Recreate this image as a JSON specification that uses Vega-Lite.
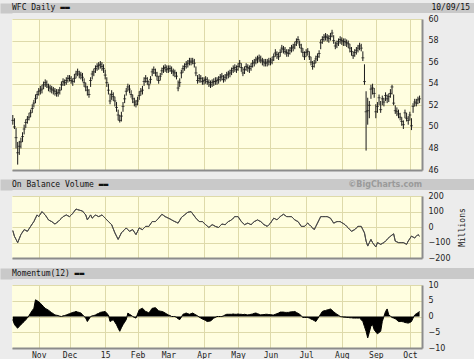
{
"$schema": "https://vega.github.io/schema/vega-lite/v6.json",
"background": "#ececec",
"padding": {"left": 0, "top": 3, "right": 0, "bottom": 0},
"spacing": 0,
"config": {"view": {"stroke": null}},
"datasets": {"wfc": [
{"d":0,"h":51.1,"l":50.2,"c":50.6,"obv":-23,"mom":-1.0},
{"d":1,"h":50.8,"l":49.8,"c":50.0,"obv":-60,"mom":-2.5},
{"d":2,"h":49.9,"l":48.0,"c":49.0,"obv":-80,"mom":-3.2},
{"d":3,"h":48.6,"l":46.5,"c":47.6,"obv":-101,"mom":-3.7},
{"d":4,"h":48.7,"l":47.4,"c":48.2,"obv":-75,"mom":-3.1},
{"d":5,"h":49.0,"l":48.0,"c":48.6,"obv":-49,"mom":-2.6},
{"d":6,"h":49.5,"l":48.6,"c":49.1,"obv":-33,"mom":-2.1},
{"d":7,"h":50.2,"l":49.3,"c":49.8,"obv":-17,"mom":-1.6},
{"d":8,"h":50.7,"l":49.9,"c":50.4,"obv":-22,"mom":-1.0},
{"d":9,"h":51.0,"l":50.3,"c":50.7,"obv":-28,"mom":-0.5},
{"d":10,"h":51.3,"l":50.6,"c":50.9,"obv":-12,"mom":0.3},
{"d":11,"h":51.6,"l":50.9,"c":51.3,"obv":4,"mom":1.1},
{"d":12,"h":52.1,"l":51.3,"c":51.7,"obv":20,"mom":1.9},
{"d":13,"h":52.5,"l":51.8,"c":52.2,"obv":35,"mom":2.6},
{"d":14,"h":53.0,"l":52.2,"c":52.6,"obv":57,"mom":5.3},
{"d":15,"h":53.3,"l":52.6,"c":53.0,"obv":78,"mom":5.0},
{"d":16,"h":53.6,"l":52.9,"c":53.3,"obv":67,"mom":4.7},
{"d":17,"h":53.8,"l":53.0,"c":53.4,"obv":83,"mom":4.2},
{"d":18,"h":53.9,"l":53.1,"c":53.5,"obv":99,"mom":3.7},
{"d":19,"h":54.2,"l":53.5,"c":53.9,"obv":88,"mom":3.1},
{"d":20,"h":54.4,"l":53.7,"c":54.1,"obv":78,"mom":2.6},
{"d":21,"h":54.3,"l":53.6,"c":53.9,"obv":62,"mom":2.3},
{"d":22,"h":54.0,"l":53.3,"c":53.7,"obv":46,"mom":2.0},
{"d":23,"h":53.9,"l":53.2,"c":53.6,"obv":40,"mom":1.6},
{"d":24,"h":53.8,"l":53.1,"c":53.5,"obv":35,"mom":1.2},
{"d":25,"h":53.7,"l":53.0,"c":53.4,"obv":27,"mom":0.9},
{"d":26,"h":53.6,"l":52.9,"c":53.3,"obv":19,"mom":0.5},
{"d":27,"h":53.5,"l":52.8,"c":53.1,"obv":27,"mom":0.4},
{"d":28,"h":53.5,"l":52.8,"c":53.2,"obv":35,"mom":0.3},
{"d":29,"h":53.7,"l":53.0,"c":53.4,"obv":46,"mom":0.1},
{"d":30,"h":54.2,"l":53.4,"c":53.9,"obv":56,"mom":0.0},
{"d":31,"h":54.5,"l":53.8,"c":54.2,"obv":67,"mom":0.2},
{"d":32,"h":54.4,"l":53.8,"c":54.1,"obv":72,"mom":0.3},
{"d":33,"h":54.6,"l":53.9,"c":54.3,"obv":78,"mom":0.5},
{"d":34,"h":54.8,"l":54.1,"c":54.5,"obv":72,"mom":0.7},
{"d":35,"h":54.8,"l":54.2,"c":54.5,"obv":67,"mom":0.9},
{"d":36,"h":54.7,"l":54.0,"c":54.3,"obv":77,"mom":1.1},
{"d":37,"h":54.5,"l":53.8,"c":54.2,"obv":88,"mom":1.3},
{"d":38,"h":54.9,"l":54.1,"c":54.5,"obv":102,"mom":1.4},
{"d":39,"h":55.2,"l":54.5,"c":54.9,"obv":116,"mom":1.6},
{"d":40,"h":55.4,"l":54.7,"c":55.1,"obv":112,"mom":1.4},
{"d":41,"h":55.2,"l":54.5,"c":54.9,"obv":109,"mom":1.3},
{"d":42,"h":55.1,"l":54.4,"c":54.8,"obv":106,"mom":1.1},
{"d":43,"h":55.0,"l":54.2,"c":54.6,"obv":103,"mom":0.6},
{"d":44,"h":54.5,"l":53.7,"c":54.1,"obv":90,"mom":0.0},
{"d":45,"h":54.1,"l":53.3,"c":53.7,"obv":78,"mom":-0.5},
{"d":46,"h":53.8,"l":52.9,"c":53.4,"obv":46,"mom":-1.6},
{"d":47,"h":53.5,"l":52.7,"c":53.0,"obv":62,"mom":-0.8},
{"d":48,"h":54.6,"l":53.7,"c":54.3,"obv":78,"mom":0.0},
{"d":49,"h":55.2,"l":54.4,"c":54.9,"obv":57,"mom":0.2},
{"d":50,"h":55.4,"l":54.7,"c":55.1,"obv":67,"mom":0.3},
{"d":51,"h":55.7,"l":55.0,"c":55.4,"obv":78,"mom":0.5},
{"d":52,"h":55.9,"l":55.2,"c":55.6,"obv":72,"mom":0.8},
{"d":53,"h":56.0,"l":55.3,"c":55.7,"obv":67,"mom":1.0},
{"d":54,"h":56.1,"l":55.4,"c":55.8,"obv":72,"mom":1.3},
{"d":55,"h":56.0,"l":55.2,"c":55.6,"obv":78,"mom":1.4},
{"d":56,"h":55.8,"l":55.0,"c":55.4,"obv":68,"mom":1.5},
{"d":57,"h":55.3,"l":54.4,"c":54.8,"obv":57,"mom":1.6},
{"d":58,"h":54.6,"l":53.7,"c":54.1,"obv":46,"mom":1.0},
{"d":59,"h":54.0,"l":53.0,"c":53.4,"obv":35,"mom":0.5},
{"d":60,"h":53.1,"l":52.1,"c":52.4,"obv":25,"mom":-1.6},
{"d":61,"h":53.4,"l":52.5,"c":53.0,"obv":15,"mom":-1.3},
{"d":62,"h":53.2,"l":52.4,"c":52.8,"obv":-12,"mom":-1.0},
{"d":63,"h":52.8,"l":51.9,"c":52.4,"obv":-38,"mom":-1.8},
{"d":64,"h":52.3,"l":51.4,"c":51.8,"obv":-59,"mom":-2.6},
{"d":65,"h":51.6,"l":50.6,"c":51.1,"obv":-80,"mom":-3.7},
{"d":66,"h":51.1,"l":50.4,"c":50.6,"obv":-59,"mom":-4.7},
{"d":67,"h":51.4,"l":50.5,"c":51.0,"obv":-38,"mom":-3.6},
{"d":68,"h":52.3,"l":51.4,"c":51.9,"obv":-27,"mom":-2.6},
{"d":69,"h":53.0,"l":52.2,"c":52.6,"obv":-17,"mom":-1.8},
{"d":70,"h":53.6,"l":52.9,"c":53.3,"obv":-6,"mom":-1.0},
{"d":71,"h":54.0,"l":53.3,"c":53.7,"obv":-17,"mom":1.1},
{"d":72,"h":53.9,"l":53.1,"c":53.5,"obv":-28,"mom":0.7},
{"d":73,"h":53.4,"l":52.7,"c":53.0,"obv":-22,"mom":0.4},
{"d":74,"h":53.0,"l":52.2,"c":52.6,"obv":-17,"mom":0.0},
{"d":75,"h":52.7,"l":51.9,"c":52.3,"obv":-33,"mom":-0.3},
{"d":76,"h":52.5,"l":51.8,"c":52.1,"obv":-49,"mom":-0.5},
{"d":77,"h":52.8,"l":52.0,"c":52.4,"obv":-28,"mom":0.8},
{"d":78,"h":53.3,"l":52.5,"c":52.9,"obv":-6,"mom":2.1},
{"d":79,"h":53.6,"l":52.9,"c":53.3,"obv":-12,"mom":2.4},
{"d":80,"h":53.8,"l":53.0,"c":53.4,"obv":-17,"mom":2.6},
{"d":81,"h":54.6,"l":53.8,"c":54.2,"obv":-6,"mom":2.1},
{"d":82,"h":54.8,"l":54.1,"c":54.5,"obv":4,"mom":1.6},
{"d":83,"h":54.6,"l":53.9,"c":54.2,"obv":4,"mom":1.4},
{"d":84,"h":54.3,"l":53.5,"c":53.9,"obv":4,"mom":1.1},
{"d":85,"h":54.7,"l":54.0,"c":54.4,"obv":20,"mom":1.9},
{"d":86,"h":55.4,"l":54.7,"c":55.1,"obv":35,"mom":2.6},
{"d":87,"h":55.6,"l":54.9,"c":55.3,"obv":35,"mom":2.7},
{"d":88,"h":55.4,"l":54.7,"c":55.0,"obv":35,"mom":2.8},
{"d":89,"h":55.1,"l":54.3,"c":54.7,"obv":46,"mom":2.3},
{"d":90,"h":54.7,"l":54.0,"c":54.3,"obv":57,"mom":1.8},
{"d":91,"h":55.0,"l":54.3,"c":54.7,"obv":70,"mom":1.7},
{"d":92,"h":55.5,"l":54.8,"c":55.2,"obv":82,"mom":1.6},
{"d":93,"h":55.7,"l":55.0,"c":55.4,"obv":75,"mom":1.4},
{"d":94,"h":55.8,"l":55.1,"c":55.5,"obv":67,"mom":1.1},
{"d":95,"h":55.7,"l":55.0,"c":55.3,"obv":62,"mom":0.8},
{"d":96,"h":55.7,"l":55.0,"c":55.4,"obv":57,"mom":0.5},
{"d":97,"h":55.7,"l":55.1,"c":55.4,"obv":52,"mom":0.3},
{"d":98,"h":55.6,"l":54.9,"c":55.2,"obv":46,"mom":0.0},
{"d":99,"h":55.4,"l":54.7,"c":55.1,"obv":40,"mom":0.0},
{"d":100,"h":55.3,"l":54.6,"c":55.0,"obv":35,"mom":0.0},
{"d":101,"h":55.1,"l":54.4,"c":54.7,"obv":30,"mom":-0.3},
{"d":102,"h":54.3,"l":53.3,"c":53.6,"obv":25,"mom":-0.7},
{"d":103,"h":54.5,"l":53.7,"c":54.1,"obv":43,"mom":-1.0},
{"d":104,"h":55.3,"l":54.5,"c":55.0,"obv":61,"mom":-0.2},
{"d":105,"h":55.7,"l":55.0,"c":55.4,"obv":70,"mom":0.7},
{"d":106,"h":55.9,"l":55.2,"c":55.6,"obv":78,"mom":0.9},
{"d":107,"h":56.1,"l":55.4,"c":55.8,"obv":87,"mom":1.1},
{"d":108,"h":56.2,"l":55.5,"c":55.9,"obv":95,"mom":0.9},
{"d":109,"h":56.4,"l":55.7,"c":56.1,"obv":97,"mom":0.7},
{"d":110,"h":56.4,"l":55.7,"c":56.0,"obv":99,"mom":0.9},
{"d":111,"h":56.4,"l":55.8,"c":56.1,"obv":85,"mom":1.1},
{"d":112,"h":56.3,"l":55.5,"c":55.9,"obv":71,"mom":0.8},
{"d":113,"h":55.6,"l":54.7,"c":55.0,"obv":57,"mom":0.5},
{"d":114,"h":54.8,"l":54.0,"c":54.3,"obv":46,"mom":0.2},
{"d":115,"h":54.9,"l":54.1,"c":54.5,"obv":35,"mom":-0.2},
{"d":116,"h":54.8,"l":54.1,"c":54.5,"obv":35,"mom":-0.5},
{"d":117,"h":54.6,"l":53.9,"c":54.2,"obv":35,"mom":-0.8},
{"d":118,"h":54.6,"l":53.9,"c":54.3,"obv":25,"mom":-1.0},
{"d":119,"h":54.7,"l":54.0,"c":54.4,"obv":15,"mom":-1.3},
{"d":120,"h":54.6,"l":53.9,"c":54.2,"obv":6,"mom":-1.6},
{"d":121,"h":54.4,"l":53.7,"c":54.1,"obv":-3,"mom":-1.5},
{"d":122,"h":54.3,"l":53.6,"c":53.9,"obv":6,"mom":-1.4},
{"d":123,"h":54.4,"l":53.7,"c":54.1,"obv":15,"mom":-1.0},
{"d":124,"h":54.5,"l":53.8,"c":54.2,"obv":10,"mom":-0.5},
{"d":125,"h":54.6,"l":53.9,"c":54.2,"obv":4,"mom":-0.3},
{"d":126,"h":54.6,"l":53.9,"c":54.3,"obv":0,"mom":0.0},
{"d":127,"h":54.7,"l":54.0,"c":54.4,"obv":-3,"mom":0.0},
{"d":128,"h":54.9,"l":54.2,"c":54.6,"obv":8,"mom":0.0},
{"d":129,"h":55.0,"l":54.3,"c":54.7,"obv":19,"mom":0.0},
{"d":130,"h":54.8,"l":54.1,"c":54.4,"obv":17,"mom":0.2},
{"d":131,"h":54.9,"l":54.2,"c":54.6,"obv":15,"mom":0.5},
{"d":132,"h":55.1,"l":54.4,"c":54.8,"obv":25,"mom":0.7},
{"d":133,"h":55.2,"l":54.5,"c":54.9,"obv":35,"mom":0.7},
{"d":134,"h":55.3,"l":54.6,"c":55.0,"obv":40,"mom":0.7},
{"d":135,"h":55.5,"l":54.8,"c":55.2,"obv":46,"mom":0.7},
{"d":136,"h":55.7,"l":55.0,"c":55.4,"obv":57,"mom":0.8},
{"d":137,"h":55.8,"l":55.1,"c":55.5,"obv":67,"mom":0.7},
{"d":138,"h":55.7,"l":55.0,"c":55.3,"obv":67,"mom":0.7},
{"d":139,"h":55.9,"l":55.2,"c":55.6,"obv":67,"mom":0.8},
{"d":140,"h":56.2,"l":55.5,"c":55.9,"obv":51,"mom":0.7},
{"d":141,"h":55.9,"l":55.1,"c":55.5,"obv":35,"mom":0.7},
{"d":142,"h":55.5,"l":54.7,"c":55.0,"obv":25,"mom":0.6},
{"d":143,"h":55.6,"l":54.9,"c":55.3,"obv":15,"mom":0.7},
{"d":144,"h":55.9,"l":55.2,"c":55.6,"obv":20,"mom":0.6},
{"d":145,"h":55.8,"l":55.1,"c":55.5,"obv":25,"mom":0.5},
{"d":146,"h":55.7,"l":55.0,"c":55.4,"obv":20,"mom":0.6},
{"d":147,"h":55.9,"l":55.2,"c":55.6,"obv":15,"mom":0.7},
{"d":148,"h":56.2,"l":55.5,"c":55.9,"obv":25,"mom":0.8},
{"d":149,"h":56.3,"l":55.6,"c":56.0,"obv":35,"mom":1.0},
{"d":150,"h":56.5,"l":55.8,"c":56.2,"obv":40,"mom":1.1},
{"d":151,"h":56.6,"l":55.9,"c":56.3,"obv":46,"mom":0.9},
{"d":152,"h":56.7,"l":56.0,"c":56.4,"obv":40,"mom":0.7},
{"d":153,"h":56.6,"l":55.9,"c":56.2,"obv":35,"mom":0.5},
{"d":154,"h":56.4,"l":55.7,"c":56.1,"obv":25,"mom":0.6},
{"d":155,"h":56.3,"l":55.6,"c":56.0,"obv":15,"mom":0.6},
{"d":156,"h":56.3,"l":55.6,"c":55.9,"obv":10,"mom":0.7},
{"d":157,"h":56.3,"l":55.6,"c":56.0,"obv":4,"mom":0.7},
{"d":158,"h":56.4,"l":55.7,"c":56.1,"obv":15,"mom":0.6},
{"d":159,"h":56.4,"l":55.7,"c":56.0,"obv":25,"mom":0.6},
{"d":160,"h":56.5,"l":55.8,"c":56.2,"obv":41,"mom":0.5},
{"d":161,"h":56.8,"l":56.1,"c":56.5,"obv":57,"mom":0.5},
{"d":162,"h":57.2,"l":56.5,"c":56.85,"obv":52,"mom":0.7},
{"d":163,"h":57.0,"l":56.3,"c":56.7,"obv":46,"mom":0.9},
{"d":164,"h":56.9,"l":56.2,"c":56.5,"obv":57,"mom":1.1},
{"d":165,"h":57.2,"l":56.5,"c":56.9,"obv":67,"mom":1.4},
{"d":166,"h":57.6,"l":56.9,"c":57.3,"obv":75,"mom":1.4},
{"d":167,"h":57.5,"l":56.8,"c":57.2,"obv":82,"mom":1.4},
{"d":168,"h":57.4,"l":56.7,"c":57.0,"obv":75,"mom":1.3},
{"d":169,"h":57.2,"l":56.5,"c":56.9,"obv":67,"mom":1.3},
{"d":170,"h":57.2,"l":56.5,"c":56.8,"obv":67,"mom":1.3},
{"d":171,"h":57.4,"l":56.7,"c":57.1,"obv":67,"mom":1.4},
{"d":172,"h":57.6,"l":56.9,"c":57.3,"obv":67,"mom":1.5},
{"d":173,"h":57.7,"l":57.0,"c":57.4,"obv":56,"mom":1.5},
{"d":174,"h":57.9,"l":57.2,"c":57.6,"obv":46,"mom":1.6},
{"d":175,"h":58.2,"l":57.5,"c":57.9,"obv":40,"mom":1.3},
{"d":176,"h":58.4,"l":57.7,"c":58.1,"obv":35,"mom":1.0},
{"d":177,"h":58.0,"l":57.3,"c":57.6,"obv":20,"mom":0.7},
{"d":178,"h":57.7,"l":56.9,"c":57.3,"obv":4,"mom":0.2},
{"d":179,"h":57.3,"l":56.5,"c":56.9,"obv":4,"mom":-0.3},
{"d":180,"h":57.0,"l":56.2,"c":56.5,"obv":4,"mom":-0.3},
{"d":181,"h":57.2,"l":56.5,"c":56.9,"obv":15,"mom":-0.3},
{"d":182,"h":57.3,"l":56.6,"c":57.0,"obv":25,"mom":-0.3},
{"d":183,"h":57.0,"l":56.2,"c":56.5,"obv":15,"mom":-0.5},
{"d":184,"h":56.5,"l":55.7,"c":56.0,"obv":4,"mom":-0.8},
{"d":185,"h":56.1,"l":55.3,"c":55.6,"obv":-6,"mom":-1.0},
{"d":186,"h":56.2,"l":55.5,"c":55.9,"obv":-17,"mom":-1.3},
{"d":187,"h":56.6,"l":55.9,"c":56.3,"obv":4,"mom":-1.6},
{"d":188,"h":56.8,"l":56.1,"c":56.5,"obv":25,"mom":-0.8},
{"d":189,"h":57.1,"l":56.4,"c":56.8,"obv":46,"mom":0.0},
{"d":190,"h":58.1,"l":57.2,"c":57.8,"obv":67,"mom":0.8},
{"d":191,"h":58.4,"l":57.7,"c":58.1,"obv":67,"mom":1.6},
{"d":192,"h":58.6,"l":57.9,"c":58.3,"obv":67,"mom":1.8},
{"d":193,"h":58.7,"l":58.0,"c":58.4,"obv":67,"mom":1.9},
{"d":194,"h":58.6,"l":57.9,"c":58.3,"obv":67,"mom":2.1},
{"d":195,"h":58.5,"l":57.8,"c":58.2,"obv":62,"mom":2.2},
{"d":196,"h":58.7,"l":58.0,"c":58.4,"obv":57,"mom":2.4},
{"d":197,"h":59.0,"l":58.3,"c":58.7,"obv":41,"mom":2.0},
{"d":198,"h":58.5,"l":57.7,"c":58.0,"obv":25,"mom":1.5},
{"d":199,"h":57.9,"l":57.2,"c":57.5,"obv":30,"mom":1.1},
{"d":200,"h":58.0,"l":57.3,"c":57.7,"obv":35,"mom":0.7},
{"d":201,"h":58.2,"l":57.5,"c":57.9,"obv":35,"mom":0.4},
{"d":202,"h":58.4,"l":57.7,"c":58.1,"obv":35,"mom":0.0},
{"d":203,"h":58.3,"l":57.6,"c":58.0,"obv":28,"mom":-0.1},
{"d":204,"h":58.2,"l":57.5,"c":57.9,"obv":22,"mom":-0.2},
{"d":205,"h":58.2,"l":57.5,"c":57.9,"obv":15,"mom":-0.2},
{"d":206,"h":58.1,"l":57.4,"c":57.8,"obv":4,"mom":-0.3},
{"d":207,"h":58.0,"l":57.3,"c":57.7,"obv":-6,"mom":-0.3},
{"d":208,"h":57.7,"l":56.9,"c":57.3,"obv":-17,"mom":-0.4},
{"d":209,"h":57.4,"l":56.6,"c":57.0,"obv":-28,"mom":-0.4},
{"d":210,"h":57.0,"l":56.3,"c":56.6,"obv":-22,"mom":-0.5},
{"d":211,"h":57.2,"l":56.5,"c":56.9,"obv":-17,"mom":-0.5},
{"d":212,"h":57.4,"l":56.7,"c":57.1,"obv":-6,"mom":-0.5},
{"d":213,"h":57.6,"l":56.9,"c":57.3,"obv":4,"mom":-0.5},
{"d":214,"h":57.8,"l":57.1,"c":57.5,"obv":4,"mom":-0.5},
{"d":215,"h":57.7,"l":57.0,"c":57.3,"obv":4,"mom":-1.0},
{"d":216,"h":57.0,"l":56.1,"c":56.4,"obv":-17,"mom":-1.6},
{"d":217,"h":55.8,"l":53.9,"c":54.2,"obv":-38,"mom":-3.2},
{"d":218,"h":53.3,"l":47.8,"c":51.4,"obv":-91,"mom":-4.7},
{"d":219,"h":52.7,"l":50.2,"c":51.5,"obv":-123,"mom":-6.8},
{"d":220,"h":52.4,"l":50.8,"c":52.0,"obv":-101,"mom":-5.0},
{"d":221,"h":53.9,"l":52.6,"c":53.5,"obv":-80,"mom":-3.0},
{"d":222,"h":54.0,"l":53.0,"c":53.6,"obv":-101,"mom":-2.6},
{"d":223,"h":53.6,"l":52.7,"c":53.1,"obv":-115,"mom":-4.2},
{"d":224,"h":52.1,"l":50.8,"c":51.4,"obv":-129,"mom":-4.9},
{"d":225,"h":52.3,"l":51.3,"c":51.9,"obv":-101,"mom":-5.5},
{"d":226,"h":53.0,"l":52.0,"c":52.7,"obv":-106,"mom":-5.1},
{"d":227,"h":52.4,"l":51.3,"c":51.6,"obv":-112,"mom":-4.7},
{"d":228,"h":52.9,"l":52.0,"c":52.6,"obv":-106,"mom":-1.6},
{"d":229,"h":52.7,"l":51.9,"c":52.3,"obv":-101,"mom":0.0},
{"d":230,"h":53.2,"l":52.4,"c":52.9,"obv":-90,"mom":1.6},
{"d":231,"h":53.0,"l":52.2,"c":52.6,"obv":-80,"mom":2.4},
{"d":232,"h":53.1,"l":52.3,"c":52.8,"obv":-70,"mom":0.5},
{"d":233,"h":53.5,"l":52.7,"c":53.1,"obv":-59,"mom":0.1},
{"d":234,"h":53.9,"l":53.0,"c":53.7,"obv":-52,"mom":-0.3},
{"d":235,"h":53.0,"l":52.0,"c":52.2,"obv":-44,"mom":-0.5},
{"d":236,"h":52.0,"l":51.2,"c":51.5,"obv":-91,"mom":-0.7},
{"d":237,"h":51.8,"l":51.0,"c":51.4,"obv":-96,"mom":-1.1},
{"d":238,"h":51.6,"l":50.8,"c":51.2,"obv":-101,"mom":-1.6},
{"d":239,"h":51.3,"l":50.6,"c":50.9,"obv":-101,"mom":-1.6},
{"d":240,"h":50.9,"l":50.1,"c":50.5,"obv":-101,"mom":-1.6},
{"d":241,"h":50.6,"l":49.8,"c":50.2,"obv":-101,"mom":-1.7},
{"d":242,"h":51.6,"l":50.8,"c":51.3,"obv":-106,"mom":-1.9},
{"d":243,"h":51.3,"l":50.5,"c":50.8,"obv":-112,"mom":-2.0},
{"d":244,"h":51.0,"l":50.2,"c":50.6,"obv":-91,"mom":-2.1},
{"d":245,"h":51.4,"l":50.6,"c":51.1,"obv":-75,"mom":-1.9},
{"d":246,"h":50.8,"l":49.7,"c":50.1,"obv":-59,"mom":-1.6},
{"d":247,"h":52.2,"l":51.3,"c":51.9,"obv":-65,"mom":-0.5},
{"d":248,"h":52.6,"l":51.9,"c":52.3,"obv":-70,"mom":0.5},
{"d":249,"h":52.6,"l":51.9,"c":52.2,"obv":-60,"mom":0.9},
{"d":250,"h":52.8,"l":52.1,"c":52.5,"obv":-49,"mom":1.2},
{"d":251,"h":52.9,"l":52.2,"c":52.6,"obv":-59,"mom":1.6}
]},
"vconcat": [
{
 "width": 462, "height": 10,
 "view": {"fill": "#c9c9c9", "stroke": null},
 "data": {"values": [{"side": "left", "label": "WFC Daily ▬▬"}, {"side": "right", "label": "10/09/15"}]},
 "encoding": {
  "x": {"field": "side", "type": "nominal", "scale": {"domain": ["left", "right"], "range": [0, 458], "padding": 0}, "axis": {"labels": false, "ticks": false, "domain": false, "grid": false, "title": null, "minExtent": 2, "maxExtent": 2}},
  "y": {"datum": 0, "type": "quantitative", "scale": {"domain": [-1, 1], "nice": false, "zero": false}, "axis": {"orient": "left", "labels": false, "ticks": false, "grid": false, "title": null, "domain": true, "domainColor": "#c9c9c9", "domainWidth": 12, "offset": 6, "minExtent": 0, "maxExtent": 12}},
  "text": {"field": "label"}
 },
 "layer": [
  {"transform": [{"filter": "datum.side == 'left'"}], "mark": {"type": "text", "align": "left", "font": "DejaVu Sans Mono", "fontSize": 8, "color": "#111"}},
  {"transform": [{"filter": "datum.side == 'right'"}], "mark": {"type": "text", "align": "right", "font": "DejaVu Sans Mono", "fontSize": 8, "color": "#111"}}
 ]
},
{
 "width": 410, "height": 151,
 "view": {"fill": "#fffee0", "stroke": null},
 "data": {"name": "wfc"},
 "layer": [
  {"mark": {"type": "rule", "color": "#1a1a1a", "strokeWidth": 1},
   "encoding": {
    "x": {"field": "d", "type": "quantitative", "scale": {"domain": [-0.5, 252.5], "nice": false, "zero": false}, "axis": {"values": [16,35,57,77,96,118,139,159,181,203,224,245], "labels": false, "ticks": false, "grid": true, "gridColor": "#dedaaa", "domain": true, "domainColor": "#8c8c8c", "domainWidth": 2, "title": null, "minExtent": 9, "maxExtent": 9}},
    "y": {"field": "l", "type": "quantitative", "scale": {"domain": [46, 60], "nice": false, "zero": false}, "axis": {"orient": "left", "values": [46,48,50,52,54,56,58,60], "labels": false, "ticks": false, "domain": false, "grid": true, "gridColor": "#dedaaa", "title": null, "minExtent": 12, "maxExtent": 12}},
    "y2": {"field": "h"}
   }},
  {"mark": {"type": "tick", "orient": "horizontal", "color": "#1a1a1a", "size": 3, "thickness": 1},
   "encoding": {
    "x": {"field": "d", "type": "quantitative", "scale": {"domain": [-0.5, 252.5], "nice": false, "zero": false}, "axis": {"values": [16,35,57,77,96,118,139,159,181,203,224,245], "labels": false, "ticks": false, "grid": true, "gridColor": "#dedaaa", "domain": true, "domainColor": "#8c8c8c", "domainWidth": 2, "title": null, "minExtent": 9, "maxExtent": 9}},
    "y": {"field": "c", "type": "quantitative", "scale": {"domain": [46, 60], "nice": false, "zero": false}, "axis": {"orient": "right", "values": [46,48,50,52,54,56,58,60], "grid": false, "ticks": false, "labelPadding": 6, "labelFont": "DejaVu Sans", "labelFontSize": 8, "labelColor": "#222", "domain": true, "domainColor": "#8c8c8c", "domainWidth": 2, "title": null}}
   }}
 ],
 "resolve": {"axis": {"y": "independent"}}
},
{
 "width": 462, "height": 11,
 "view": {"fill": "#c9c9c9", "stroke": null},
 "data": {"values": [{"side": "left", "label": "On Balance Volume ▬▬"}, {"side": "right", "label": "©BigCharts.com"}]},
 "encoding": {
  "x": {"field": "side", "type": "nominal", "scale": {"domain": ["left", "right"], "range": [0, 410], "padding": 0}, "axis": {"labels": false, "ticks": false, "domain": false, "grid": false, "title": null, "minExtent": 2, "maxExtent": 2}},
  "y": {"datum": 0, "type": "quantitative", "scale": {"domain": [-1, 1], "nice": false, "zero": false}, "axis": {"orient": "left", "labels": false, "ticks": false, "grid": false, "title": null, "domain": true, "domainColor": "#c9c9c9", "domainWidth": 12, "offset": 6, "minExtent": 0, "maxExtent": 12}},
  "text": {"field": "label"}
 },
 "layer": [
  {"transform": [{"filter": "datum.side == 'left'"}], "mark": {"type": "text", "align": "left", "font": "DejaVu Sans Mono", "fontSize": 8, "color": "#111"}},
  {"transform": [{"filter": "datum.side == 'right'"}], "mark": {"type": "text", "align": "right", "font": "DejaVu Sans", "fontWeight": "bold", "fontSize": 8, "color": "#9a9a9a"}}
 ]
},
{
 "width": 410, "height": 62,
 "view": {"fill": "#fffee0", "stroke": null},
 "data": {"name": "wfc"},
 "layer": [
  {"mark": {"type": "line", "color": "#4a4a4a", "strokeWidth": 1},
   "encoding": {
    "x": {"field": "d", "type": "quantitative", "scale": {"domain": [-0.5, 252.5], "nice": false, "zero": false}, "axis": {"values": [16,35,57,77,96,118,139,159,181,203,224,245], "labels": false, "ticks": false, "grid": true, "gridColor": "#dedaaa", "domain": true, "domainColor": "#8c8c8c", "domainWidth": 2, "title": null, "minExtent": 10, "maxExtent": 10}},
    "y": {"field": "obv", "type": "quantitative", "scale": {"domain": [-200, 200], "nice": false, "zero": false}, "axis": {"orient": "left", "values": [-200,-100,0,100,200], "labels": false, "ticks": false, "domain": false, "grid": true, "gridColor": "#dedaaa", "title": null, "minExtent": 12, "maxExtent": 12}}
   }},
  {"mark": {"type": "line", "color": "#4a4a4a", "strokeWidth": 1},
   "encoding": {
    "x": {"field": "d", "type": "quantitative", "scale": {"domain": [-0.5, 252.5], "nice": false, "zero": false}, "axis": {"values": [16,35,57,77,96,118,139,159,181,203,224,245], "labels": false, "ticks": false, "grid": true, "gridColor": "#dedaaa", "domain": true, "domainColor": "#8c8c8c", "domainWidth": 2, "title": null, "minExtent": 10, "maxExtent": 10}},
    "y": {"field": "obv", "type": "quantitative", "scale": {"domain": [-200, 200], "nice": false, "zero": false}, "axis": {"orient": "right", "values": [-200,-100,0,100,200], "grid": false, "ticks": false, "labelPadding": 6, "labelFont": "DejaVu Sans", "labelFontSize": 8, "labelColor": "#222", "domain": true, "domainColor": "#8c8c8c", "domainWidth": 2, "title": "Millions", "titleFont": "DejaVu Sans Mono", "titleFontSize": 8, "titleFontWeight": "normal", "titleColor": "#222", "titleAngle": 270, "titlePadding": 17}}
   }}
 ],
 "resolve": {"axis": {"y": "independent"}}
},
{
 "width": 462, "height": 11,
 "view": {"fill": "#c9c9c9", "stroke": null},
 "data": {"values": [{"side": "left", "label": "Momentum(12) ▬▬"}]},
 "mark": {"type": "text", "align": "left", "font": "DejaVu Sans Mono", "fontSize": 8, "color": "#111"},
 "encoding": {
  "x": {"field": "side", "type": "nominal", "scale": {"domain": ["left"], "range": [0, 0], "padding": 0}, "axis": {"labels": false, "ticks": false, "domain": false, "grid": false, "title": null, "minExtent": 2, "maxExtent": 2}},
  "y": {"datum": 0, "type": "quantitative", "scale": {"domain": [-1, 1], "nice": false, "zero": false}, "axis": {"orient": "left", "labels": false, "ticks": false, "grid": false, "title": null, "domain": true, "domainColor": "#c9c9c9", "domainWidth": 12, "offset": 6, "minExtent": 0, "maxExtent": 12}},
  "text": {"field": "label"}
 }
},
{
 "width": 410, "height": 63,
 "view": {"fill": "#fffee0", "stroke": null},
 "data": {"name": "wfc"},
 "layer": [
  {"mark": {"type": "area", "color": "#000000"},
   "encoding": {
    "x": {"field": "d", "type": "quantitative", "scale": {"domain": [-0.5, 252.5], "nice": false, "zero": false}, "axis": {"values": [16,35,57,77,96,118,139,159,181,203,224,245], "labelExpr": "datum.value==16?'Nov':datum.value==35?'Dec':datum.value==57?'15':datum.value==77?'Feb':datum.value==96?'Mar':datum.value==118?'Apr':datum.value==139?'May':datum.value==159?'Jun':datum.value==181?'Jul':datum.value==203?'Aug':datum.value==224?'Sep':'Oct'", "labelFont": "DejaVu Sans Mono", "labelFontSize": 8, "labelColor": "#222", "labelPadding": 3, "ticks": false, "grid": true, "gridColor": "#dedaaa", "domain": true, "domainColor": "#8c8c8c", "domainWidth": 2, "title": null}},
    "y": {"field": "mom", "type": "quantitative", "scale": {"domain": [-10, 10], "nice": false, "zero": false}, "axis": {"orient": "left", "values": [-10,-5,0,5,10], "labels": false, "ticks": false, "domain": false, "grid": true, "gridColor": "#dedaaa", "title": null, "minExtent": 12, "maxExtent": 12}},
    "y2": {"datum": 0}
   }},
  {"mark": {"type": "line", "color": "#000000", "strokeWidth": 1},
   "encoding": {
    "x": {"field": "d", "type": "quantitative", "scale": {"domain": [-0.5, 252.5], "nice": false, "zero": false}, "axis": {"values": [16,35,57,77,96,118,139,159,181,203,224,245], "labelExpr": "datum.value==16?'Nov':datum.value==35?'Dec':datum.value==57?'15':datum.value==77?'Feb':datum.value==96?'Mar':datum.value==118?'Apr':datum.value==139?'May':datum.value==159?'Jun':datum.value==181?'Jul':datum.value==203?'Aug':datum.value==224?'Sep':'Oct'", "labelFont": "DejaVu Sans Mono", "labelFontSize": 8, "labelColor": "#222", "labelPadding": 3, "ticks": false, "grid": true, "gridColor": "#dedaaa", "domain": true, "domainColor": "#8c8c8c", "domainWidth": 2, "title": null}},
    "y": {"field": "mom", "type": "quantitative", "scale": {"domain": [-10, 10], "nice": false, "zero": false}, "axis": {"orient": "right", "values": [-10,-5,0,5,10], "grid": false, "ticks": false, "labelPadding": 6, "labelFont": "DejaVu Sans", "labelFontSize": 8, "labelColor": "#222", "domain": true, "domainColor": "#8c8c8c", "domainWidth": 2, "title": null}}
   }}
 ],
 "resolve": {"axis": {"y": "independent"}}
}
]
}
